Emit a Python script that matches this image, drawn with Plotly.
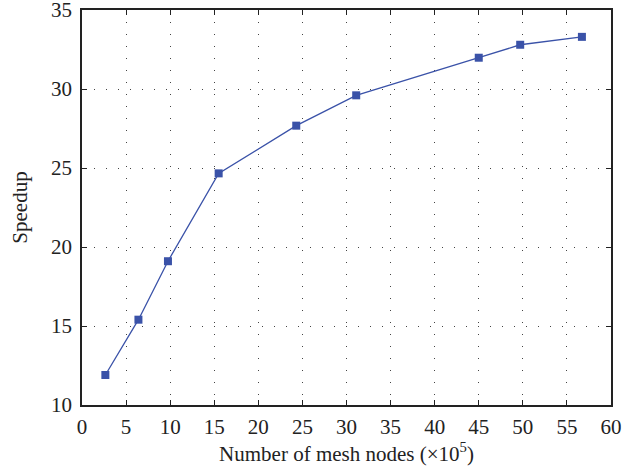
import plotly.graph_objects as go

nodes = [2.65, 6.4, 9.75, 15.5, 24.3, 31.1, 45.0, 49.7, 56.7]
speedup = [11.9, 15.4, 19.1, 24.66, 27.68, 29.6, 31.98, 32.8, 33.3]

x_ticks = list(range(0, 61, 5))
y_ticks = list(range(10, 36, 5))

fig = go.Figure()
fig.add_trace(go.Scatter(
    x=nodes, y=speedup, mode="lines+markers",
    line=dict(color="#3a52a8", width=1.3),
    marker=dict(symbol="square", size=8, color="#3a52a8"),
    showlegend=False,
))

font = dict(family="Liberation Serif, DejaVu Serif, serif", size=21, color="#222")
axis_common = dict(
    showline=True, linecolor="#222", linewidth=1.5, mirror="ticks",
    ticks="inside", ticklen=5, tickcolor="#222", tickwidth=1,
    showgrid=True, gridcolor="#444", gridwidth=1, griddash="1px,11px",
    zeroline=False, tickfont=font, automargin=False,
    ticklabeloverflow="allow",
)
fig.update_layout(
    width=639, height=468,
    margin=dict(l=82, r=28, t=10, b=63),
    paper_bgcolor="white", plot_bgcolor="white",
    font=font,
    xaxis=dict(range=[0, 60], tickvals=x_ticks, ticklabelstandoff=2,
               title=dict(text="Number of mesh nodes (×10<sup>5</sup>)", font=font, standoff=5),
               **axis_common),
    yaxis=dict(range=[10, 35], tickvals=y_ticks, ticklabelstandoff=4,
               title=dict(text="Speedup", font=font, standoff=18),
               **axis_common),
)
fig.write_html("out.html", config={"displayModeBar": False},
               post_script="document.body.style.margin='0';document.body.style.overflow='hidden';")
